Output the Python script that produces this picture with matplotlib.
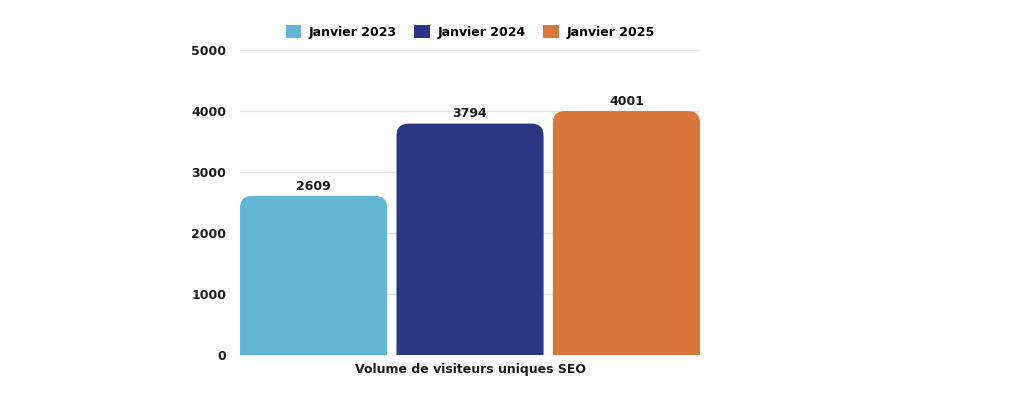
import matplotlib.pyplot as plt
from matplotlib.patches import FancyBboxPatch, Patch

# data
series = ['Janvier 2023', 'Janvier 2024', 'Janvier 2025']
values = [2609, 3794, 4001]
colors = ['#63B5D4', '#293681', '#D8773B']
xlabel = 'Volume de visiteurs uniques SEO'
yticks = [0, 1000, 2000, 3000, 4000, 5000]

plt.rcParams['font.family'] = 'DejaVu Sans'
plt.rcParams['font.weight'] = 'bold'

fig = plt.figure(figsize=(10.24, 3.97), dpi=100)
ax = fig.add_axes([0.2344, 0.1058, 0.4492, 0.768])

bar_w = 0.94
ax.set_xlim(-0.47, 2.47)
ax.set_ylim(0, 5000)

# px per data unit, for rounding corners the same in x and y
px_x = ax.bbox.width / 2.94
px_y = ax.bbox.height / 5000
r_px = 12
r_x = r_px / px_x
aspect = px_x / px_y

for i, (v, c) in enumerate(zip(values, colors)):
    x0 = i - bar_w / 2
    r_y = r_x * aspect
    # extend below zero so only the top corners appear rounded
    p = FancyBboxPatch((x0, -r_y * 2), bar_w, v + r_y * 2,
                       boxstyle=f"round,pad=0,rounding_size={r_x}",
                       mutation_aspect=aspect,
                       facecolor=c, edgecolor='none', zorder=3)
    ax.add_patch(p)
    ax.text(i, v + 55, str(v), ha='center', va='bottom',
            fontsize=9, fontweight='bold', color='#1a1a1a')

ax.set_yticks(yticks)
ax.set_yticklabels([str(t) for t in yticks], fontsize=9, fontweight='bold', color='#1a1a1a')
ax.set_xticks([])
ax.tick_params(axis='y', length=0, pad=10)
ax.grid(axis='y', color='#e3e3e3', linewidth=1, zorder=0)
for s in ax.spines.values():
    s.set_visible(False)

ax.set_xlabel(xlabel, fontsize=9, fontweight='bold', color='#1a1a1a', labelpad=6)

handles = [Patch(facecolor=c, edgecolor='none') for c in colors]
ax.legend(handles, series, ncol=3, loc='lower center', bbox_to_anchor=(0.5, 1.0),
          frameon=False, fontsize=9, handlelength=1.25, handleheight=1.25,
          columnspacing=1.4, handletextpad=0.6)

fig.savefig('out.png', dpi=100)
